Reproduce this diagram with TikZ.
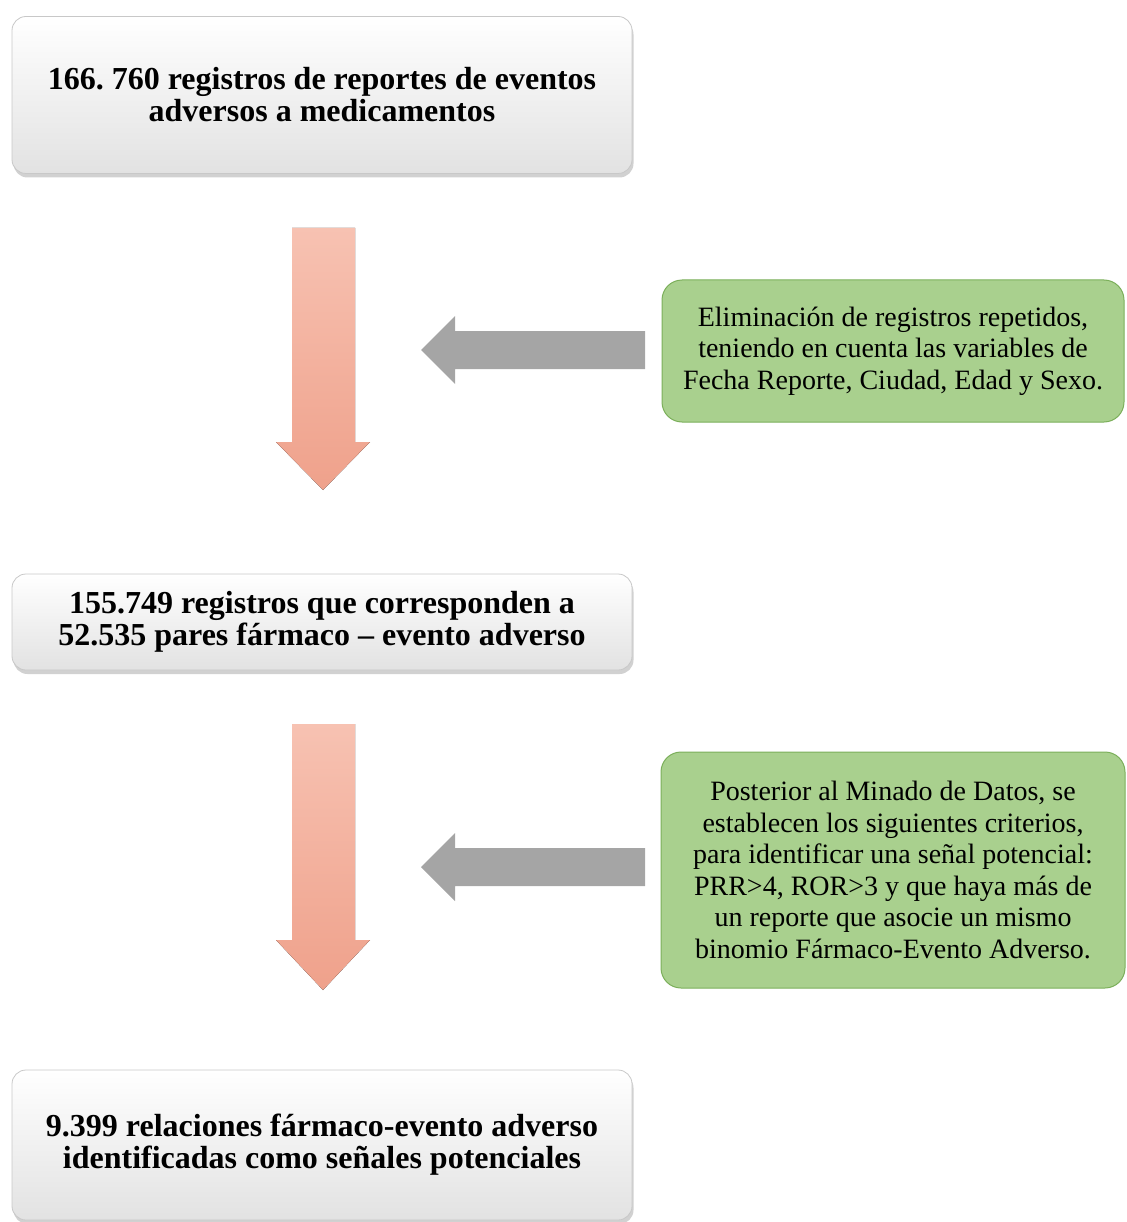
\documentclass[tikz,border=0pt]{standalone}
\usepackage{fontspec}
\setmainfont{Liberation Serif}
\usetikzlibrary{shadows}
\frenchspacing
\definecolor{boxline}{HTML}{C8C8C8}
\definecolor{boxbot}{HTML}{E2E2E2}
\definecolor{greenfill}{HTML}{A9D08E}
\definecolor{greenline}{HTML}{7BAF5A}
\definecolor{pinktop}{HTML}{F7C2B2}
\definecolor{pinkbot}{HTML}{EFA18B}
\definecolor{grayarrow}{HTML}{A5A5A5}
\tikzset{
  whitebox/.style={rectangle, rounded corners=14pt, draw=boxline, line width=0.8pt,
    top color=white, bottom color=boxbot, align=center,
    drop shadow={shadow xshift=1.5pt, shadow yshift=-4pt, opacity=0.45, fill=gray!80},
    font=\fontsize{32}{32}\selectfont\bfseries, inner sep=0pt},
  greenbox/.style={rectangle, rounded corners=20pt, draw=greenline, line width=1pt,
    fill=greenfill, align=center,
    font=\fontsize{28}{31.5}\selectfont, inner sep=0pt},
  pinkarrow/.style={top color=pinktop, bottom color=pinkbot, draw=none},
  grayarrowstyle/.style={fill=grayarrow, draw=none},
}
\begin{document}
\begin{tikzpicture}[x=1pt,y=-1pt]
\useasboundingbox (0,0) rectangle (1126,1222);
% main boxes
\node[whitebox, minimum width=620pt, minimum height=157pt] (b1) at (322,95)
  {166. 760 registros de reportes de eventos\\adversos a medicamentos};
\node[whitebox, minimum width=620pt, minimum height=96pt] (b2) at (322,622)
  {155.749 registros que corresponden a\\52.535 pares fármaco -- evento adverso};
\node[whitebox, minimum width=620pt, minimum height=150pt] (b3) at (322,1145)
  {9.399 relaciones fármaco-evento adverso\\identificadas como señales potenciales};
% green boxes
\node[greenbox, minimum width=462pt, minimum height=142pt] (g1) at (893,351)
  {Eliminación de registros repetidos,\\teniendo en cuenta las variables de\\Fecha Reporte, Ciudad, Edad y Sexo.};
\node[greenbox, minimum width=464pt, minimum height=236pt] (g2) at (893,870)
  {Posterior al Minado de Datos, se\\establecen los siguientes criterios,\\para identificar una señal potencial:\\PRR>4, ROR>3 y que haya más de\\un reporte que asocie un mismo\\binomio Fármaco-Evento Adverso.};
% pink down arrows
\fill[pinkarrow] (292,228) -- (355,228) -- (355,442) -- (370,442) -- (323,490)
  -- (276,442) -- (292,442) -- cycle;
\fill[pinkarrow] (292,724) -- (355,724) -- (355,940) -- (370,940) -- (323,990)
  -- (276,940) -- (292,940) -- cycle;
% gray left arrows
\fill[grayarrowstyle] (645,331) -- (455,331) -- (455,316) -- (421,350) -- (455,384)
  -- (455,369) -- (645,369) -- cycle;
\fill[grayarrowstyle] (645,848) -- (455,848) -- (455,833) -- (421,867) -- (455,901)
  -- (455,886) -- (645,886) -- cycle;
\end{tikzpicture}
\end{document}
